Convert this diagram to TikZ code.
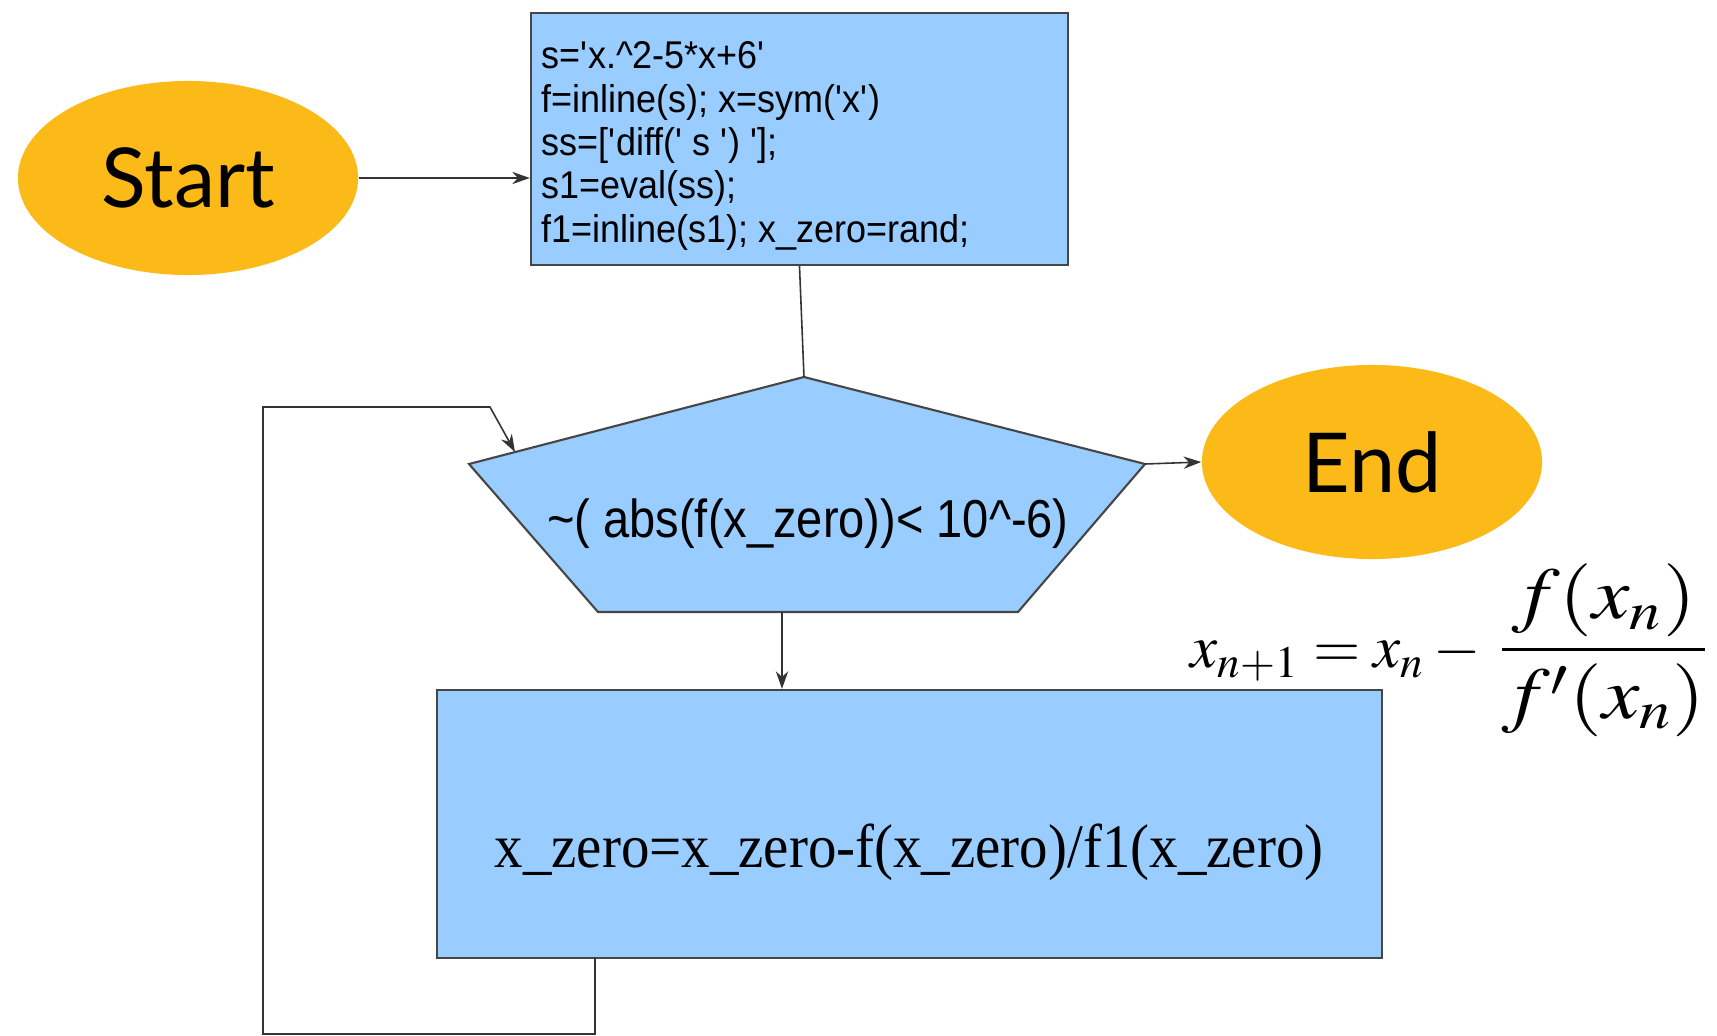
\documentclass[tikz,border=0pt]{standalone}
\usepackage{mathptmx}
\usepackage{graphicx}
\usepackage{fontspec}
\setmainfont{Liberation Sans}
\newfontfamily\seriffont[FakeStretch=0.92]{Liberation Serif}
\newfontfamily\boxfont[FakeStretch=0.93]{Liberation Sans}
\newfontfamily\condfont[FakeStretch=0.88]{Liberation Sans}
\newfontfamily\roundfont{Lato}
\newcommand{\sq}{\textquotesingle}
\usetikzlibrary{shapes.geometric,arrows.meta,calc}
\definecolor{termfill}{RGB}{252,186,24}
\definecolor{procfill}{RGB}{153,204,255}
\definecolor{edgegray}{RGB}{70,70,70}
\begin{document}
\begin{tikzpicture}[x=0.01cm,y=-0.01cm,
  terminal/.style={ellipse, fill=termfill, inner sep=0pt, minimum width=3.4cm, minimum height=1.94cm, font=\roundfont\fontsize{23.5}{28}\selectfont},
  procbox/.style={draw=edgegray, line width=0.6pt, fill=procfill},
  conn/.style={draw=black!80, line width=0.45pt},
  arr/.style={conn, -{Stealth[length=5pt,width=3.5pt]}}
]
\useasboundingbox (0,0) rectangle (1717,1036);

% Start / End
\node[terminal] (start) at (188,178) {Start};
\node[terminal] (endn) at (1372,462) {End};

% initial box
\node[procbox, minimum width=5.37cm, minimum height=2.52cm, inner sep=0pt] (init) at (799.5,139) {};
\node[anchor=west, inner sep=0pt, align=left, font=\boxfont\fontsize{11}{12.3}\selectfont] (inittext) at (541,146)
{s=\sq x.\^{}2-5*x+6\sq\\
f=inline(s); x=sym(\sq x\sq)\\
ss=[\sq diff(\sq{} s \sq) \sq];\\
s1=eval(ss);\\
f1=inline(s1); x\_zero=rand;};

% pentagon decision
\coordinate (pt) at (804,377);
\coordinate (pr) at (1145,464);
\coordinate (pbr) at (1018,612);
\coordinate (pbl) at (598,612);
\coordinate (pl) at (469,464);
\path[procbox] (pt) -- (pr) -- (pbr) -- (pbl) -- (pl) -- cycle;
\node[font=\condfont\fontsize{15.2}{18}\selectfont, inner sep=0pt] (cond) at (808,524) {\~{}( abs(f(x\_zero))< 10\^{}-6)};

% update box
\node[procbox, minimum width=9.45cm, minimum height=2.68cm, inner sep=0pt] (upd) at (909.5,824) {};
\node[font=\seriffont\fontsize{17.6}{20}\selectfont, inner sep=0pt] (updtext) at (909,852) {x\_zero=x\_zero-f(x\_zero)/f1(x\_zero)};

% formula
\node[anchor=west, inner sep=0pt, font=\fontsize{17.3}{21}\selectfont] (newton) at (1190,650)
 {$x_{n+1}=x_n-\mkern2mu\scalebox{1.38}[1.2]{$\displaystyle\frac{f(x_n)}{f'(x_n)}$}$};

% connectors
\draw[arr] (start.east) -- (init.west |- start.east);
\draw[conn] (init.south) -- (pt);
\draw[arr] (pr) -- (endn.west);
\coordinate (pbo) at (782,612);
\draw[arr] (pbo) -- (upd.north -| pbo);
\coordinate (l0) at (595,958);
\coordinate (l1) at (595,1034);
\coordinate (l2) at (263,1034);
\coordinate (l3) at (263,407);
\coordinate (l4) at (490,407);
\coordinate (lin) at (515,452);
\draw[arr] (l0) -- (l1) -- (l2) -- (l3) -- (l4) -- (lin);
\end{tikzpicture}
\end{document}
